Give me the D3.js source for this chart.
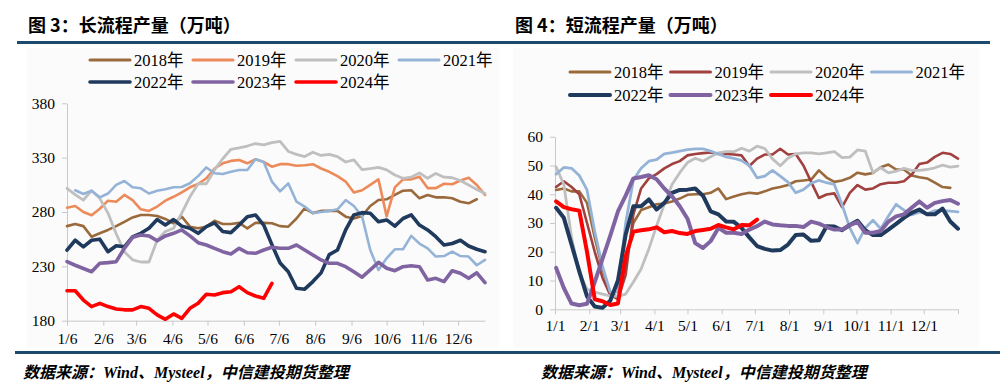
<!DOCTYPE html>
<html><head><meta charset="utf-8">
<script src="https://cdn.jsdelivr.net/npm/d3@7"></script>
<style>body{margin:0;background:#fff;} svg{display:block;}</style>
</head><body><svg id="c" width="1007" height="390"></svg>
<script>
// ---------- DATA ----------
const seriesNames = ["2018年","2019年","2020年","2021年","2022年","2023年","2024年"];
const longTickLabels = ["1/6","2/6","3/6","4/6","5/6","6/6","7/6","8/6","9/6","10/6","11/6","12/6"];
const shortTickLabels = ["1/1","2/1","3/1","4/1","5/1","6/1","7/1","8/1","9/1","10/1","11/1","12/1",""];
const longYTicks = [180,230,280,330,380];
const shortYTicks = [0,10,20,30,40,50,60];

// 长流程 weekly (from 1/6)
const long2018 = [267,269,267,257.3,260.4,263.5,267,271,275,277.3,277.3,276.3,273.6,269.6,275.7,266.5,265,266.5,272,269,269,270,265,270,270,269.6,267,266.5,274,283.4,279,281,281,281,275.7,274,276.3,285.5,291,291.7,295.7,299.6,300,292.6,295.7,293.5,293.5,292.6,289.5,288,291.7];
const long2019 = [284,285.5,280,277,283,290.4,289.5,295.7,291,282.5,281,285,290.4,294,298,302.7,305.8,311,320,324.8,327,327.9,324.8,328.5,326,321.7,324,324,322.5,323,324,320,317,313,308,298,300,305,310,276,302.7,310,310,312.5,302,302,306,305.5,309,311.5,304.8,295.7];
const long2020 = [301.8,296,291,299.6,292.6,279,260,243.5,236,234,234,254,262,265,279,294,306,306,318.7,329,337.7,339,340.7,343,341.7,343.8,345,335.7,333,331,335,332,333,331,326,328,319,320,321,318.7,314,311,312,316,311,315.5,312,311.5,309,304.8,300.7,297];
const long2021 = [null,300,296.6,299.6,293.5,297,305,308.5,302.7,301.8,297,299.6,301,302.7,303,306.4,313,321,315.6,315,317,318.7,318.7,328.5,326,308,299,306.4,289.5,285,279,280,281,282.5,291,285.5,276,245,226.7,237.4,245.7,245.7,258,251,246.6,239,239.5,243.5,239.5,239,231,236];
const long2022 = [245,254,248,254,255,243.5,249,248,257,260.4,265,273,268,273,267,265,260.4,266.5,270,262,261,268,275.7,277.3,268,250,233,225,209.8,209,216,224,240.8,245,263.5,277.3,279.4,278.8,271,272.7,267,274,277.3,268,263.5,257.3,249.6,251,254,248.7,245.7,243.5];
const long2023 = [234.3,231,228,225,232.8,233.4,234.3,246.6,256.7,258.9,258,253.6,258,260.4,263.5,258,251.8,249.6,246.6,243.5,241.4,246.6,242.5,242,245,247.5,246.6,246.6,249.6,245,240.5,235.9,232.8,232.8,229.7,225,220,226.7,233.7,228.2,226,229.7,230.6,229.7,217.5,219,216,226,223.6,219,224,215];
const long2024 = [207.6,207.6,199,193,196,193,190.8,190,190,193,191.4,185.3,181.3,186.2,182.2,191.4,196,204.3,203.7,205.8,206.7,211.3,205.8,202.7,200.6,214.4];

// 短流程 weekly (from 1/1)
const short2018 = [41.5,42,41,41,37,25,14,6,4,16,30,34.5,35.5,36.5,36.8,37.5,38.5,39.8,40,40,40.5,42,38.3,39.2,40,40.5,40.2,41,42,42.5,43.2,44.5,44.8,45.1,48.3,45.8,44.3,44.8,45.7,47.5,46.9,47.4,49.4,50.3,48.6,48.6,46.5,45.9,45.5,44,42.5,42.2];
const short2019 = [42.5,44.5,42.5,40,30,20,11,5,3.5,12,33,42,45.5,47,49,50.5,51.5,53.5,54,54.3,54.5,54,54,53.8,53.5,49.8,52.4,53.8,53.8,55.8,53.8,54,50,44.3,38.7,39.9,40.3,35.5,40.5,43.2,41.6,42,43.5,44,44,44.5,46.8,50.5,51,53,54.4,54,52.4];
const short2020 = [49.5,43.4,25,12.5,7,6,5.3,4.7,4.5,5.3,9.5,14,21,29,36.5,43.4,47.5,51,52.5,51.5,53,54.4,54.8,54.8,56,55,56.7,55.9,52.3,49.9,52.5,54,54.4,54.4,54,54.4,54.8,52.7,52.9,55.4,55,47.5,49.2,47.4,48,49,48.3,48.3,48.6,49.2,50.1,49.4,49.8];
const short2021 = [47,49.3,49,46.5,41.5,27,15,6,6,30,45,49,51.5,52,54,54.5,55,55.5,55.8,55.8,55,54,53,52.5,51.7,50,45.7,46.3,48.3,46.3,44.2,40.5,41.6,43.8,44.8,44,43.4,36.4,28.3,23,28.3,31,28,32.4,36.5,34.5,32.8,33.8,33.2,34.3,34.3,34.1,33.9];
const short2022 = [35.3,31.8,22.5,13.2,4.5,1,0.5,3,10,26,35.8,35.8,38.2,34.7,37,40.5,41.5,41.6,42,39.5,34,33,30.5,30.4,28.3,25,22,21,20.4,20.6,22.5,25.8,26,23.8,24,28.9,28.8,27.5,29.3,30.8,27.5,25.8,25.8,27.7,29.7,31.8,33.5,34.7,33,33,35,30.5,28];
const short2023 = [14.4,7.4,2,1.4,1.9,9.5,17.5,25.5,34,39.5,45.5,46,46.6,45.2,42,39.3,35.8,31.5,23,21.3,23.7,28.3,26.6,26.6,26.2,27.7,28.9,30.5,29.5,29.2,29,29,28.6,30.5,29.8,28.6,27.7,27.7,29.3,30.3,26.6,26.6,27.2,30.5,32.3,33,35.3,37.5,35.3,37,37.6,38,36.7];
const short2024 = [37.5,35.5,34.8,34.3,20,3.5,2.8,1.5,2,18.5,27,27.5,27.8,28.5,26.8,27.2,26.5,26.2,27.2,27.6,28,29.3,28.5,27.8,29.3,29.2,31.2];

// ---------- STYLE ----------
const serif = "'Liberation Serif','Times New Roman','Noto Sans CJK SC',serif";
const sans = "'Noto Sans CJK SC','Noto Sans',sans-serif";
const barBlue = "#1b4a6e";
const axisGray = "#c9c9c9";
const longColors = ["#9a6a3c","#ed8a5a","#bfbfbf","#95b3d7","#1f3a5c","#8064a2","#ff0000"];
const shortColors = ["#9a6a3c","#a0403f","#bfbfbf","#95b3d7","#1f3a5c","#8064a2","#ff0000"];
const longWidths = [2.6,2.6,2.8,2.6,3.6,3.6,3.6];
const shortWidths = [2.6,2.6,2.8,2.8,4,4,4];

const svg = d3.select("#c");

// background panels
svg.append("rect").attr("x",27).attr("y",48).attr("width",472).attr("height",300).attr("fill","#fbfbfb");
svg.append("rect").attr("x",513).attr("y",48).attr("width",466).attr("height",300).attr("fill","#fbfbfb");

// titles
svg.append("text").attr("x",28).attr("y",32).attr("font-family",sans).attr("font-weight","bold")
  .attr("font-size",18).attr("fill","#000").text("图 3：长流程产量（万吨）");
svg.append("text").attr("x",515).attr("y",32).attr("font-family",sans).attr("font-weight","bold")
  .attr("font-size",18).attr("fill","#000").text("图 4：短流程产量（万吨）");
svg.append("rect").attr("x",17).attr("y",41).attr("width",973).attr("height",3).attr("fill",barBlue);
svg.append("rect").attr("x",15).attr("y",351).attr("width",985).attr("height",3).attr("fill",barBlue);

// footers
[23,541].forEach(fx=>{
  svg.append("text").attr("x",fx).attr("y",378).attr("font-family",serif).attr("font-style","italic")
    .attr("font-weight","bold").attr("font-size",16).attr("fill","#000")
    .text("数据来源：Wind、Mysteel，中信建投期货整理");
});

function drawChart(cfg){
  const x = d3.scaleTime().domain([cfg.start,cfg.end]).range([cfg.x0,cfg.x1]);
  const y = d3.scaleLinear().domain([cfg.yTicks[0],cfg.yTicks[cfg.yTicks.length-1]]).range([cfg.yb,cfg.yt]);
  const g = svg.append("g");

  const ya = g.append("g").attr("transform",`translate(${cfg.x0},0)`)
    .call(d3.axisLeft(y).tickValues(cfg.yTicks).tickSize(5).tickSizeOuter(0).tickPadding(7).tickFormat(d3.format("d")));
  ya.selectAll("path,line").attr("stroke",axisGray);
  ya.selectAll("text").attr("font-family",serif).attr("font-size",15.5).attr("fill","#000");

  const xa = g.append("g").attr("transform",`translate(0,${cfg.yb})`)
    .call(d3.axisBottom(x).tickValues(cfg.tickDates).tickSize(5).tickSizeOuter(0).tickPadding(cfg.xPad)
      .tickFormat((d,i)=>cfg.tickLabels[i]));
  xa.selectAll("path,line").attr("stroke",axisGray);
  xa.selectAll("text").attr("font-family",serif).attr("font-size",15.5).attr("fill","#000");

  cfg.series.forEach((vals,k)=>{
    const line = d3.line()
      .defined(v=>v!=null)
      .x((v,i)=>x(d3.timeDay.offset(cfg.dataStart,7*i)))
      .y(v=>y(v));
    g.append("path").datum(vals).attr("d",line).attr("fill","none")
      .attr("stroke",cfg.colors[k]).attr("stroke-width",cfg.widths[k])
      .attr("stroke-linejoin","round").attr("stroke-linecap","round");
  });

  // legend
  seriesNames.forEach((name,k)=>{
    const col = k%4, row = Math.floor(k/4);
    const lx = cfg.legX + col*cfg.legDx, ly = cfg.legY + row*cfg.legDy;
    g.append("line").attr("x1",lx).attr("x2",lx+40).attr("y1",ly).attr("y2",ly)
      .attr("stroke",cfg.colors[k]).attr("stroke-width",Math.max(3,cfg.widths[k])).attr("stroke-linecap","round");
    g.append("text").attr("x",lx+44).attr("y",ly).attr("dy","0.36em")
      .attr("font-family",serif).attr("font-size",16.5).attr("fill","#000").text(name);
  });
}

drawChart({
  start:new Date(2023,0,6), end:new Date(2023,11,29), dataStart:new Date(2023,0,6),
  x0:67, x1:485, yb:320.7, yt:103.3, yTicks:longYTicks,
  tickDates:d3.range(12).map(m=>new Date(2023,m,6)), tickLabels:longTickLabels, xPad:7,
  series:[long2018,long2019,long2020,long2021,long2022,long2023,long2024],
  colors:longColors, widths:longWidths,
  legX:90, legY:60, legDx:103, legDy:22
});

drawChart({
  start:new Date(2023,0,1), end:new Date(2024,0,1), dataStart:new Date(2023,0,2),
  x0:555, x1:958, yb:309.3, yt:136.7, yTicks:shortYTicks,
  tickDates:d3.range(13).map(m=>new Date(2023,m,1)), tickLabels:shortTickLabels, xPad:6,
  series:[short2018,short2019,short2020,short2021,short2022,short2023,short2024],
  colors:shortColors, widths:shortWidths,
  legX:570, legY:72, legDx:100.5, legDy:23
});
</script></body></html>
